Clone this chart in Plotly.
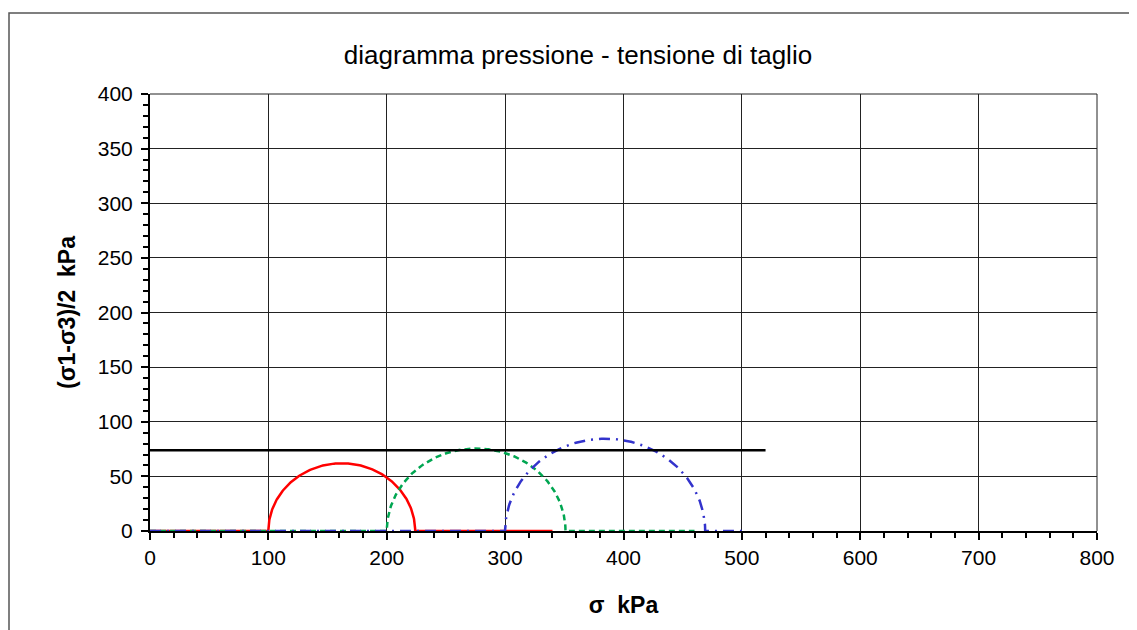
import numpy as np
import plotly.graph_objects as go

# ---- data ----
sigma3 = [100, 200, 300]          # kPa, minor principal stress per test
sigma1 = [224, 351, 469]          # kPa, major principal stress per test
baseline_end = [340, 460, 505]    # kPa, extent of each series along the sigma axis
series_colors = ["#ff0000", "#00a651", "#3333cc"]
series_dash = ["solid", "6px,4px", "11px,6px,2px,6px"]

envelope_x = [0, 520]             # horizontal line (max shear) extent
envelope_y = [74, 74]

x_ticks = [0, 100, 200, 300, 400, 500, 600, 700, 800]
y_ticks = [0, 50, 100, 150, 200, 250, 300, 350, 400]

fig = go.Figure()

theta = np.linspace(np.pi, 0, 181)
for s3, s1, xe, col, dash in zip(sigma3, sigma1, baseline_end, series_colors, series_dash):
    c = (s1 + s3) / 2.0
    r = (s1 - s3) / 2.0
    xs = np.concatenate([[0.0, s3], c + r * np.cos(theta), [s1, xe]])
    ys = np.concatenate([[0.0, 0.0], r * np.sin(theta), [0.0, 0.0]])
    fig.add_trace(go.Scatter(x=xs, y=ys, mode="lines",
                             line=dict(color=col, width=2.5, dash=dash),
                             showlegend=False, hoverinfo="skip"))

fig.add_trace(go.Scatter(x=envelope_x, y=envelope_y, mode="lines",
                         line=dict(color="#000000", width=2.5),
                         showlegend=False, hoverinfo="skip"))

W, H = 1137, 630
OFF = 8  # page body margin
L, R, T, B = 150 - OFF, 1097 - OFF, 94 - OFF, 531 - OFF
pw, ph = R - L, B - T

font_family = "Liberation Sans, Arial, sans-serif"

fig.update_layout(
    width=W, height=H,
    margin=dict(l=L, r=W - R, t=T, b=H - B),
    paper_bgcolor="white", plot_bgcolor="white",
    font=dict(family=font_family, color="#000000", size=20),
    title=dict(text="diagramma pressione - tensione di taglio",
               x=(578 - OFF) / W, xref="container", xanchor="center",
               y=1 - (55 - OFF) / H, yref="container", yanchor="middle",
               font=dict(size=26, family=font_family, color="#000")),
    xaxis=dict(range=[0, 800], tickvals=x_ticks, ticktext=[str(v) for v in x_ticks],
               showgrid=True, gridcolor="#222", gridwidth=1,
               zeroline=False, showline=True, linecolor="#000", linewidth=2,
               ticks="outside", ticklen=7, tickwidth=2, tickcolor="#000",
               minor=dict(dtick=20, ticks="outside", ticklen=5, tickwidth=2,
                          tickcolor="#000", showgrid=False),
               tickfont=dict(size=21),
               title=dict(text="<b>σ  kPa</b>", font=dict(size=23), standoff=29)),
    yaxis=dict(range=[0, 400], tickvals=y_ticks, ticktext=[str(v) for v in y_ticks],
               showgrid=True, gridcolor="#222", gridwidth=1,
               zeroline=False, showline=True, linecolor="#000", linewidth=2,
               ticks="outside", ticklen=7, tickwidth=2, tickcolor="#000",
               ticklabelstandoff=4,
               minor=dict(dtick=10, ticks="outside", ticklen=5, tickwidth=2,
                          tickcolor="#000", showgrid=False),
               tickfont=dict(size=21),
               title=dict(text="<b>(σ1-σ3)/2  kPa</b>", font=dict(size=23), standoff=16)),
)

# outer chart frame
fig.add_shape(type="rect", xref="paper", yref="paper",
              x0=(9 - OFF - L) / pw, x1=(1160 - L) / pw,
              y0=(B - 660) / ph, y1=(B - (13 - OFF)) / ph,
              line=dict(color="#555", width=1.5), fillcolor="rgba(0,0,0,0)", layer="below")

# top and right plot-area borders (gridlines at range ends)
fig.add_shape(type="line", xref="paper", yref="paper", x0=0, x1=1, y0=1, y1=1,
              line=dict(color="#222", width=1))
fig.add_shape(type="line", xref="paper", yref="paper", x0=1, x1=1, y0=0, y1=1,
              line=dict(color="#222", width=1))

fig.write_html("out.html")
